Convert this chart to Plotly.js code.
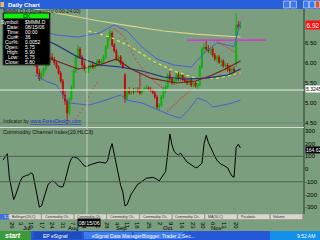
<!DOCTYPE html>
<html><head><meta charset="utf-8">
<script src="https://cdn.plot.ly/plotly-3.0.1.min.js"></script>
<style>html,body{margin:0;padding:0;background:#7a9e7e;overflow:hidden}#c{width:320px;height:240px}</style>
</head><body><div id="c"></div><script>
// ---- data ----
const barIndex = Array.from({length:112},(_,i)=>i);
const opens  = [6.45,6.50,6.60,6.55,6.30,6.10,6.00,6.10,6.20,6.25, 6.30,6.25,6.30,6.35,6.30,6.15,5.95,5.75,5.60,5.75,
 5.85,5.95,6.05,6.15,6.10,6.00,5.90,5.75,5.55,5.20, 5.05,4.75,5.10,5.40,5.80,6.15,6.35,6.15,5.95,5.75,
 5.80,5.90,5.95,5.90,5.95,6.05,6.00,6.05,6.15,6.40, 6.65,6.75,6.45,6.30,6.10,6.15,6.00,5.70,5.10,5.30,
 5.25,5.30,5.28,5.35,5.30,5.25,5.32,5.35,5.38,5.35, 5.30,5.25,5.15,4.90,4.95,5.15,5.35,5.40,5.70,5.60,
 5.50,5.55,5.70,5.60,5.70,5.58,5.55,5.50,5.58,5.45, 5.50,5.42,5.45,5.90,6.35,6.40,6.35,6.30,6.35,6.20,
 6.10,6.15,6.02,6.05,5.92,5.95,5.85,5.80,5.85,6.00, 6.95,6.90];
const highs  = [6.55,6.65,6.70,6.60,6.35,6.20,6.15,6.25,6.30,6.35, 6.35,6.35,6.40,6.40,6.32,6.18,6.00,5.85,5.80,5.90,
 6.00,6.10,6.20,6.25,6.15,6.05,5.95,5.80,5.60,5.30, 5.10,5.15,5.45,5.85,6.20,6.45,6.40,6.20,6.05,5.90,
 5.95,6.00,6.05,6.00,6.10,6.10,6.10,6.20,6.45,6.70, 6.85,6.80,6.50,6.35,6.20,6.20,6.05,5.75,5.35,5.40,
 5.35,5.38,5.40,5.40,5.75,5.35,5.40,5.45,5.42,5.40, 5.35,5.30,5.20,5.00,5.20,5.40,5.45,5.75,5.80,5.65,
 5.60,5.75,5.78,5.75,5.72,5.65,5.60,5.62,5.62,5.55, 5.55,5.50,5.95,6.40,6.50,6.55,6.45,6.40,6.40,6.25,
 6.20,6.20,6.10,6.10,6.00,6.00,5.95,5.90,5.92,7.25, 7.05,7.00];
const lows   = [6.35,6.45,6.50,6.25,6.05,5.95,5.95,6.05,6.10,6.15, 6.20,6.20,6.25,6.25,6.10,5.90,5.70,5.55,5.55,5.65,
 5.80,5.90,6.00,6.05,5.95,5.85,5.70,5.50,5.10,4.95, 4.55,4.70,5.05,5.35,5.75,6.10,6.10,5.90,5.80,5.75,
 5.75,5.85,5.85,5.85,5.90,5.95,5.95,6.00,6.10,6.35, 6.55,6.40,6.25,6.05,6.00,5.95,5.85,5.00,5.05,5.20,
 5.20,5.22,5.25,5.25,5.20,5.20,5.28,5.30,5.30,5.28, 5.22,5.10,4.85,4.80,4.90,5.10,5.25,5.35,5.55,5.45,
 5.45,5.50,5.55,5.55,5.55,5.50,5.45,5.45,5.40,5.40, 5.38,5.35,5.40,5.85,6.25,6.30,6.25,6.20,6.15,6.05,
 6.00,5.98,5.90,5.88,5.80,5.78,5.70,5.70,5.72,5.90, 6.82,6.85];
const closes = [6.50,6.60,6.55,6.30,6.10,6.00,6.10,6.20,6.25,6.30, 6.25,6.30,6.35,6.30,6.15,5.95,5.75,5.60,5.75,5.85,
 5.95,6.05,6.15,6.10,6.00,5.90,5.75,5.55,5.20,5.05, 4.75,5.10,5.40,5.80,6.15,6.35,6.15,5.95,5.85,5.80,
 5.90,5.95,5.90,5.95,6.05,6.00,6.05,6.15,6.40,6.65, 6.75,6.45,6.30,6.10,6.15,6.00,5.90,5.10,5.30,5.25,
 5.30,5.28,5.35,5.30,5.25,5.32,5.35,5.38,5.35,5.30, 5.25,5.15,4.90,4.95,5.15,5.35,5.40,5.70,5.60,5.50,
 5.55,5.70,5.60,5.70,5.58,5.55,5.50,5.58,5.45,5.50, 5.42,5.45,5.90,6.35,6.40,6.35,6.30,6.35,6.20,6.10,
 6.15,6.02,6.05,5.92,5.95,5.85,5.80,5.85,5.80,6.95, 6.90,6.92];
const cci = [70,100,120,-70,-170,-240,-200,-140,-100,-65, -55,-50,-45,-30,-40,-120,-195,-300,-290,-230,
 -170,-125,-105,-95,-100,-120,-135,-140,-140,-90, -20,40,85,95,90,85,65,45,25,20,
 30,35,40,45,50,55,52,50,47,70, 150,200,110,20,-50,-130,-180,-290,-280,-230,
 -195,-170,-140,-120,-110,-100,-85,-72,-68,-65, -66,-72,-80,-95,-70,-45,-20,120,275,190,
 140,120,110,125,100,80,55,45,35,20, 10,15,30,45,200,265,210,170,130,100,
 70,50,35,30,20,10,-25,-55,-65,170, 195,165];
// overlay studies
const maSlowX = [15,30,45,60,75,90,111], maSlowY = [7.35,7.20,7.05,6.92,6.80,6.72,6.65];
const maMidX = [40,50,60,70,80,90,100,111], maMidY = [6.80,6.65,6.40,6.05,5.80,5.62,5.62,5.75];
const maNavyX = [15,25,35,45,55,65,75,85,95,105,111], maNavyY = [6.70,6.45,6.15,5.95,5.90,5.80,5.65,5.60,5.62,5.70,5.85];
const maRedX = [15,25,35,45,53,60,69,81,90,97,104,111], maRedY = [6.25,6.05,5.85,5.95,6.10,5.85,5.62,5.50,5.55,5.68,5.85,6.05];
const bbUpX = [15,25,35,45,52,58,65,72,80,88,95,100,105,108,111], bbUpY = [6.85,6.70,6.65,6.75,6.95,6.80,6.40,6.10,5.95,5.90,6.30,6.50,6.45,6.40,7.05];
const bbLoX = [15,20,25,28,31,40,45,55,58,65,73,78,83,87,91,95,98,105,111], bbLoY = [5.70,5.55,5.45,5.20,5.00,4.95,5.02,5.20,5.07,5.00,4.82,4.70,4.62,4.85,5.12,5.05,4.90,4.97,5.07];
const sarX = [34,35,36,37,38,39,40,41,42,43,44, 52,53,54,55,56,57,58,59,60,61,62,63,64,65,66,67,68,69,70,71,72,73,74,75, 77,78,79,80,81,82,83,84,85,86,87, 100,101,102,103,104,105,106,107,108, 109,110,111];
const sarY = [4.60,4.68,4.76,4.85,4.95,5.05,5.15,5.25,5.35,5.43,5.50, 6.85,6.82,6.78,6.73,6.68,6.60,6.50,6.40,6.30,6.20,6.10,6.02,5.95,5.88,5.80,5.74,5.68,5.63,5.58,5.53,5.48,5.44,5.40,5.37, 4.80,4.85,4.90,4.95,5.00,5.05,5.10,5.15,5.20,5.25,5.30, 6.55,6.52,6.48,6.45,6.42,6.38,6.35,6.32,6.28, 5.70,5.75,5.85];
const trendX = [86,123], trendY = [6.57,6.57];
const dayTickIdx = [4.7,8.9,13.6,18.7,23.4,28.5,33.2,38.3,44.9,49.1,53.7,58.4,63.1,68.7,73.8,79,84.1,89.3,93.9,98.6,103.7,109.3];
const dayTickText = ['26','3','10','17','24','31','7','14','21','28','4','11','18','25','2','9','16','23','30','6','13','20'];
const monthIdx = [8.5,29.5,52,73.8,96.5];
const monthText = ['Jul','Aug','Sep','Oct','Nov'];
const priceTicks = [4.5,5,5.5,6,6.5];
const priceTickText = ['4.50','5.00','5.50','6.00','6.50'];
const cciTicks = [-300,-200,-100,0,100,200,300];
const cciTickText = ['-300','-200','-100','0','100','200','300'];
const infoLabels = ['Symbol:','Date:','Time:','Cur#:','Cur%:','Open:','High:','Low:','Close:'];
const infoValues = ['$MMM.D','08/15/06','00:00','36','0.0052','5.75','5.90','5.75','5.80'];
const tagTexts = ['Bollinger(20,C)','Commodity Ch..','Commodity Ch..','Commodity Ch..','Commodity Ch..','Commodity Ch..','MA(50,C)','Parabolic','Volume'];

// ---- helpers ----
const W=320,H=240, X=p=>p/W, Y=p=>1-p/H;
const F='"Liberation Sans", Arial, sans-serif';
const line=(x,y,color,width,dash)=>({type:'scatter',mode:'lines',x:x,y:y,line:{color:color,width:width||1,dash:dash||'solid'},hoverinfo:'skip',xaxis:'x',yaxis:'y'});

const traces=[
 line(maSlowX,maSlowY,'#d9d68a',1.2),
 line(maMidX,maMidY,'#e6e43a',1.3,'dot'),
 line(maNavyX,maNavyY,'#1e2a7a',1.2),
 line(maRedX,maRedY,'#7a1c1c',1.2),
 line(bbUpX,bbUpY,'#4a5ed0',1),
 line(bbLoX,bbLoY,'#4a5ed0',1),
 line(trendX,trendY,'#e81ee8',1.2),
 {type:'scatter',mode:'markers',x:sarX,y:sarY,marker:{color:'#d84040',size:1.6},hoverinfo:'skip',xaxis:'x',yaxis:'y'},
 {type:'candlestick',x:barIndex,open:opens,high:highs,low:lows,close:closes,xaxis:'x',yaxis:'y',
  increasing:{line:{color:'#00b000',width:0.8},fillcolor:'#00d800'},
  decreasing:{line:{color:'#c00000',width:0.8},fillcolor:'#ee0000'},whiskerwidth:0,hoverinfo:'skip'},
 {type:'scatter',mode:'lines',x:barIndex,y:cci,line:{color:'#000000',width:1},xaxis:'x',yaxis:'y2',hoverinfo:'skip'}
];

const shapes=[
 {type:'rect',xref:'paper',yref:'paper',x0:0,x1:1,y0:Y(9),y1:1,fillcolor:'#2860dc',line:{width:0}},
 {type:'rect',xref:'paper',yref:'paper',x0:X(0.5),x1:X(4),y0:Y(7),y1:Y(2),fillcolor:'#e8c050',line:{width:0}},
 {type:'line',xref:'paper',yref:'paper',x0:X(304),x1:X(304),y0:Y(214),y1:Y(9),line:{color:'#2e3a30',width:1}},
 {type:'line',xref:'paper',yref:'paper',x0:0,x1:X(304),y0:Y(127.5),y1:Y(127.5),line:{color:'#d4dcd4',width:1}},
 {type:'line',xref:'paper',yref:'paper',x0:0,x1:X(304),y0:Y(123),y1:Y(123),line:{color:'#6a8a6c',width:1}},
 {type:'line',xref:'paper',yref:'paper',x0:X(87),x1:X(87),y0:Y(214),y1:Y(9),line:{color:'#c4cec4',width:1}},
 {type:'line',xref:'paper',yref:'y',x0:0,x1:X(304),y0:5.3245,y1:5.3245,line:{color:'#e8ede8',width:1}},
 {type:'line',xref:'paper',yref:'y2',x0:0,x1:X(304),y0:100,y1:100,line:{color:'#4c624e',width:1}},
 {type:'line',xref:'paper',yref:'y2',x0:0,x1:X(304),y0:-100,y1:-100,line:{color:'#4c624e',width:1}},
 {type:'rect',xref:'paper',yref:'paper',x0:X(3),x1:X(50),y0:Y(65),y1:Y(13),fillcolor:'#000000',line:{color:'#404040',width:1}},
 {type:'rect',xref:'paper',yref:'paper',x0:X(4),x1:X(49),y0:Y(18.5),y1:Y(13.5),fillcolor:'#10f010',line:{width:0}},
 {type:'rect',xref:'paper',yref:'paper',x0:0,x1:X(9),y0:Y(219.5),y1:Y(214),fillcolor:'#4070d8',line:{width:0}},
 {type:'rect',xref:'paper',yref:'paper',x0:0,x1:1,y0:0,y1:Y(231),fillcolor:'#2458d8',line:{width:0}},
 {type:'rect',xref:'paper',yref:'paper',x0:0,x1:X(31),y0:0,y1:Y(231),fillcolor:'#3c9a3c',line:{width:0}},
 {type:'rect',xref:'paper',yref:'paper',x0:X(34),x1:X(82),y0:Y(239),y1:Y(232),fillcolor:'#1e4cc0',line:{width:0}},
 {type:'rect',xref:'paper',yref:'paper',x0:X(84),x1:X(132),y0:Y(239),y1:Y(232),fillcolor:'#3c7cf0',line:{width:0}},
 {type:'rect',xref:'paper',yref:'paper',x0:X(134),x1:X(183),y0:Y(239),y1:Y(232),fillcolor:'#3c7cf0',line:{width:0}},
 {type:'rect',xref:'paper',yref:'paper',x0:X(270),x1:1,y0:0,y1:Y(231),fillcolor:'#1290ea',line:{width:0}},
];
[[283,290,'#3c78f0'],[290,297,'#3c78f0'],[303,309,'#3c78f0'],[309,315,'#3c78f0'],[315,320,'#e0502c']].forEach(b=>{
 shapes.push({type:'rect',xref:'paper',yref:'paper',x0:X(b[0]+0.5),x1:X(b[1]-0.5),y0:Y(8),y1:Y(1),fillcolor:b[2],line:{color:'#ffffff',width:0.5}});
});
const tagW = 294/tagTexts.length;
tagTexts.forEach((t,k)=>shapes.push({type:'rect',xref:'paper',yref:'paper',x0:X(9+k*tagW),x1:X(9+(k+1)*tagW-0.5),y0:Y(219.5),y1:Y(214),fillcolor:'#d8d8ce',line:{color:'#8c8c84',width:0.5}}));

const ann=[];
const A=(px,py,text,o)=>ann.push(Object.assign({xref:'paper',yref:'paper',x:X(px),y:Y(py),text:text,showarrow:false,xanchor:'left',yanchor:'middle',font:{family:F,size:6,color:'#000'}},o||{}));
A(6,4.5,'<b>Daily Chart</b>',{font:{family:F,size:6,color:'#ffffff'}});
A(1,11,'$MMM.D,D Dynamic(d,0.00-24.00)',{font:{family:F,size:5,color:'#1a1a1a'}});
A(26.5,16,'OK',{xanchor:'center',font:{family:F,size:5,color:'#000'}});
infoLabels.forEach((t,k)=>{
 A(21,22+k*5,t,{xanchor:'right',font:{family:F,size:5,color:'#ffffff'}});
 A(23,22+k*5,infoValues[k],{font:{family:F,size:5,color:'#ffffff'}});
});
A(1,121,'Indicator by <span style="color:#1a2ed0"><u>www.ForexDesign.com</u></span>',{font:{family:F,size:5,color:'#1a1a1a'}});
A(1,131.5,'Commodity Channel Index(20,HLC3)',{font:{family:F,size:5.5,color:'#101010'}});
A(305,25.5,'6.92',{bgcolor:'#ff1010',borderpad:0.5,font:{family:F,size:6.5,color:'#ffffff'}});
A(304.5,89,'5.3245',{bgcolor:'#ffffff',borderpad:0,font:{family:F,size:5,color:'#000'}});
A(304.5,149.5,'164.62',{bgcolor:'#000000',borderpad:0,font:{family:F,size:5,color:'#ffffff'}});
A(88.5,222.5,'08/15/06',{xanchor:'center',bgcolor:'#000000',borderpad:0.5,font:{family:F,size:5.5,color:'#ffffff'}});
A(1.5,216.8,'1.2',{font:{family:F,size:4,color:'#ffffff'}});
tagTexts.forEach((t,k)=>A(10+k*tagW,216.8,t,{font:{family:F,size:3.5,color:'#303030'}}));
monthIdx.forEach((v,k)=>ann.push({xref:'x',yref:'paper',x:v,y:Y(228),text:monthText[k],showarrow:false,xanchor:'left',yanchor:'middle',font:{family:F,size:6,color:'#000'}}));
A(3,235.5,'<b><i>start</i></b>',{font:{family:F,size:7,color:'#ffffff'}});
A(41,235.5,'EP eSignal',{font:{family:F,size:5,color:'#ffffff'}});
A(90,235.5,'eSignal Data Manager',{font:{family:F,size:5,color:'#ffffff'}});
A(140,235.5,'Blogger: Trader 2 Sec...',{font:{family:F,size:5,color:'#ffffff'}});
A(317,235.5,'9:52 AM',{xanchor:'right',font:{family:F,size:5,color:'#ffffff'}});

const layout={
 width:W,height:H,margin:{l:0,r:0,t:0,b:0},
 paper_bgcolor:'#7a9e7e',plot_bgcolor:'#7a9e7e',showlegend:false,
 font:{family:F,size:7,color:'#000'},
 xaxis:{domain:[0,X(304)],range:[-1.4,140.7],anchor:'y2',rangeslider:{visible:false},
   tickmode:'array',tickvals:dayTickIdx,ticktext:dayTickText,ticks:'',ticklabelstandoff:4,
   tickfont:{family:F,size:6,color:'#000'},showgrid:false,zeroline:false,showline:false},
 yaxis:{domain:[Y(128),Y(9)],range:[4.375,7.35],side:'right',tickmode:'array',
   tickvals:priceTicks,ticktext:priceTickText,
   ticks:'',tickfont:{family:F,size:6,color:'#000'},showgrid:false,zeroline:false,showline:false},
 yaxis2:{domain:[Y(214),Y(129)],range:[-354,315],side:'right',anchor:'x',tickmode:'array',
   tickvals:cciTicks,ticktext:cciTickText,
   ticks:'',tickfont:{family:F,size:6,color:'#000'},showgrid:false,zeroline:false,showline:false},
 shapes:shapes,annotations:ann
};
Plotly.newPlot('c',traces,layout,{staticPlot:true,displayModeBar:false});
</script></body></html>
